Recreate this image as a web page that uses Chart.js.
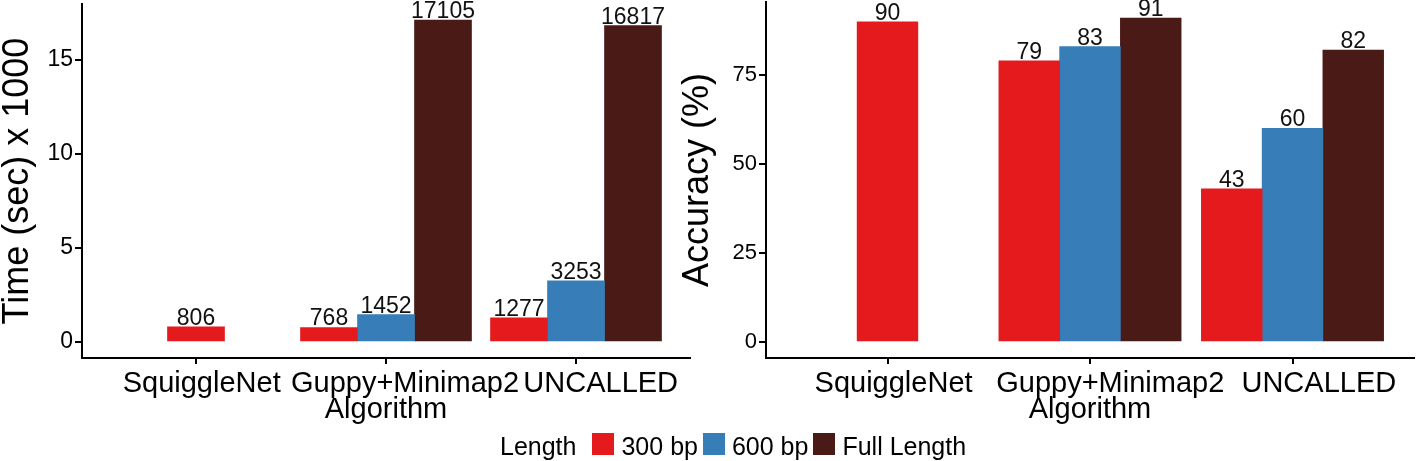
<!DOCTYPE html>
<html>
<head>
<meta charset="utf-8">
<script src="https://cdn.jsdelivr.net/npm/chart.js@4/dist/chart.umd.min.js"></script>
<style>
  html, body { margin: 0; padding: 0; background: #fff; }
  body { width: 1416px; height: 461px; position: relative; overflow: hidden;
         font-family: "Liberation Sans", Arial, sans-serif; color: #000; }
  canvas { position: absolute; top: 0; }
  #timeChart { left: 0; }
  #accChart { left: 670px; }
  #legend { position: absolute; top: 433px; left: 500px; height: 22px;
            display: flex; align-items: flex-start; font-size: 25px; line-height: 22px; }
  #legend span { position: relative; top: 2px; white-space: nowrap; }
  #legend .title { margin-right: 16px; }
  #legend .box { width: 22px; height: 22px; margin-right: 7px; }
  #legend .lab { margin-right: 5px; }
</style>
</head>
<body>
<canvas id="timeChart" width="700" height="461"></canvas>
<canvas id="accChart" width="746" height="461"></canvas>
<div id="legend"></div>
<script>
(function () {
	'use strict';

	// categories and series
	const categories = ['SquiggleNet', 'Guppy+Minimap2', 'UNCALLED'];
	const lengths = ['300 bp', '600 bp', 'Full Length'];

	// run time in seconds
	const time300 = [806, 768, 1277];
	const time600 = [null, 1452, 3253];
	const timeFull = [null, 17105, 16817];

	// accuracy in %
	const acc300 = [90, 79, 43];
	const acc600 = [null, 83, 60];
	const accFull = [null, 91, 82];

	// tick labels
	const timeTicks = [0, 5, 10, 15];
	const accTicks = [0, 25, 50, 75];

	const colors = ['#E41A1C', '#377EB8', '#4A1A17'];
	const family = '"Liberation Sans", Arial, sans-serif';
	// the category names sit a little right of their tick marks in the original
	const labelNudge = [0.03, 0.1, 0.13];

	Chart.defaults.font.family = family;
	Chart.defaults.color = '#000';

	// value labels on top of the bars
	const barLabels = {
		id: 'barLabels',
		afterDatasetsDraw(chart, args, opts) {
			const ctx = chart.ctx;
			ctx.save();
			ctx.font = opts.size + 'px ' + family;
			ctx.fillStyle = '#111';
			ctx.textAlign = 'center';
			ctx.textBaseline = 'alphabetic';
			chart.data.datasets.forEach(function(ds, di) {
				const meta = chart.getDatasetMeta(di);
				meta.data.forEach(function(bar, i) {
					const raw = ds.rawValues[i];
					if (raw == null) return;
					ctx.fillText(String(raw), bar.x, bar.y - 2);
				});
			});
			ctx.restore();
		}
	};

	function makeDatasets(series, scale, thickness) {
		return series.map(function(values, k) {
			return {
				label: lengths[k],
				rawValues: values,
				data: values.map(function(v, i) {
					return { x: i + 1, y: v == null ? null : v / scale };
				}),
				backgroundColor: colors[k],
				borderWidth: 0,
				barThickness: thickness,
				skipNull: true
			};
		});
	}

	function noPadding(s) {
		s.paddingTop = 0;
		s.paddingBottom = 0;
		s.paddingLeft = 0;
		s.paddingRight = 0;
	}

	function makeChart(canvas, cfg) {
		return new Chart(canvas, {
			type: 'bar',
			data: { datasets: cfg.datasets },
			options: {
				responsive: false,
				animation: false,
				devicePixelRatio: 1,
				layout: { padding: cfg.padding },
				plugins: {
					legend: { display: false },
					tooltip: { enabled: false },
					barLabels: { size: cfg.labelSize }
				},
				scales: {
					// axis line and tick marks
					x: {
						type: 'linear',
						weight: 0,
						min: 0.4,
						max: 3.6,
						offset: false,
						afterBuildTicks: function(s) {
							s.ticks = categories.map(function(c, i) { return { value: i + 1 }; });
						},
						afterFit: function(s) { s.height = 6; noPadding(s); },
						ticks: { display: false },
						grid: {
							offset: false,
							drawOnChartArea: false,
							drawTicks: true,
							tickLength: 6,
							color: '#000',
							lineWidth: 2
						},
						border: { display: true, color: '#000', width: 2 }
					},
					// category names and axis title
					x2: {
						type: 'linear',
						position: 'bottom',
						weight: 1,
						min: 0.4,
						max: 3.6,
						offset: false,
						afterBuildTicks: function(s) {
							s.ticks = categories.map(function(c, i) { return { value: i + 1 + labelNudge[i] }; });
						},
						afterFit: function(s) { s.height = 64; noPadding(s); },
						ticks: {
							callback: function(v, i) { return categories[i]; },
							font: { size: 29, lineHeight: 1 },
							color: '#000',
							padding: 5,
							maxRotation: 0,
							autoSkip: false
						},
						grid: { display: false, drawTicks: false },
						border: { display: false },
						title: {
							display: true,
							text: 'Algorithm',
							font: { size: 29, lineHeight: 1 },
							color: '#000',
							padding: { top: 0, bottom: 4 }
						}
					},
					y: {
						min: cfg.min,
						max: cfg.max,
						afterBuildTicks: function(s) {
							s.ticks = cfg.ticks.map(function(v) { return { value: v }; });
						},
						afterFit: function(s) { s.width = cfg.axisWidth; noPadding(s); },
						ticks: { font: { size: cfg.tickSize }, color: '#000', padding: 2 },
						grid: {
							drawOnChartArea: false,
							drawTicks: true,
							tickLength: 7,
							color: '#000',
							lineWidth: 2
						},
						border: { display: true, color: '#000', width: 2 },
						title: {
							display: true,
							text: cfg.title,
							font: { size: 36, lineHeight: 1 },
							color: '#000',
							padding: { top: cfg.titlePad, bottom: 0 }
						}
					}
				}
			},
			plugins: [barLabels]
		});
	}

	makeChart(document.getElementById('timeChart'), {
		datasets: makeDatasets([time300, time600, timeFull], 1000, 57),
		padding: { left: 0, right: 10, top: 4, bottom: 33 },
		min: -0.855,
		max: 17.96,
		ticks: timeTicks,
		axisWidth: 82,
		tickSize: 23,
		labelSize: 23,
		title: 'Time (sec) x 1000',
		titlePad: 0
	});

	makeChart(document.getElementById('accChart'), {
		datasets: makeDatasets([acc300, acc600, accFull], 1, 60.75),
		padding: { left: 0, right: 2, top: 2, bottom: 33 },
		min: -4.55,
		max: 95.55,
		ticks: accTicks,
		axisWidth: 96,
		tickSize: 22,
		labelSize: 23,
		title: 'Accuracy (%)',
		titlePad: 10
	});

	// shared legend
	const legend = document.getElementById('legend');
	let html = '<span class="title">Length</span>';
	lengths.forEach(function(name, k) {
		html += '<div class="box" style="background:' + colors[k] + '"></div>' +
			'<span class="lab">' + name + '</span>';
	});
	legend.innerHTML = html;
})();
</script>
</body>
</html>
